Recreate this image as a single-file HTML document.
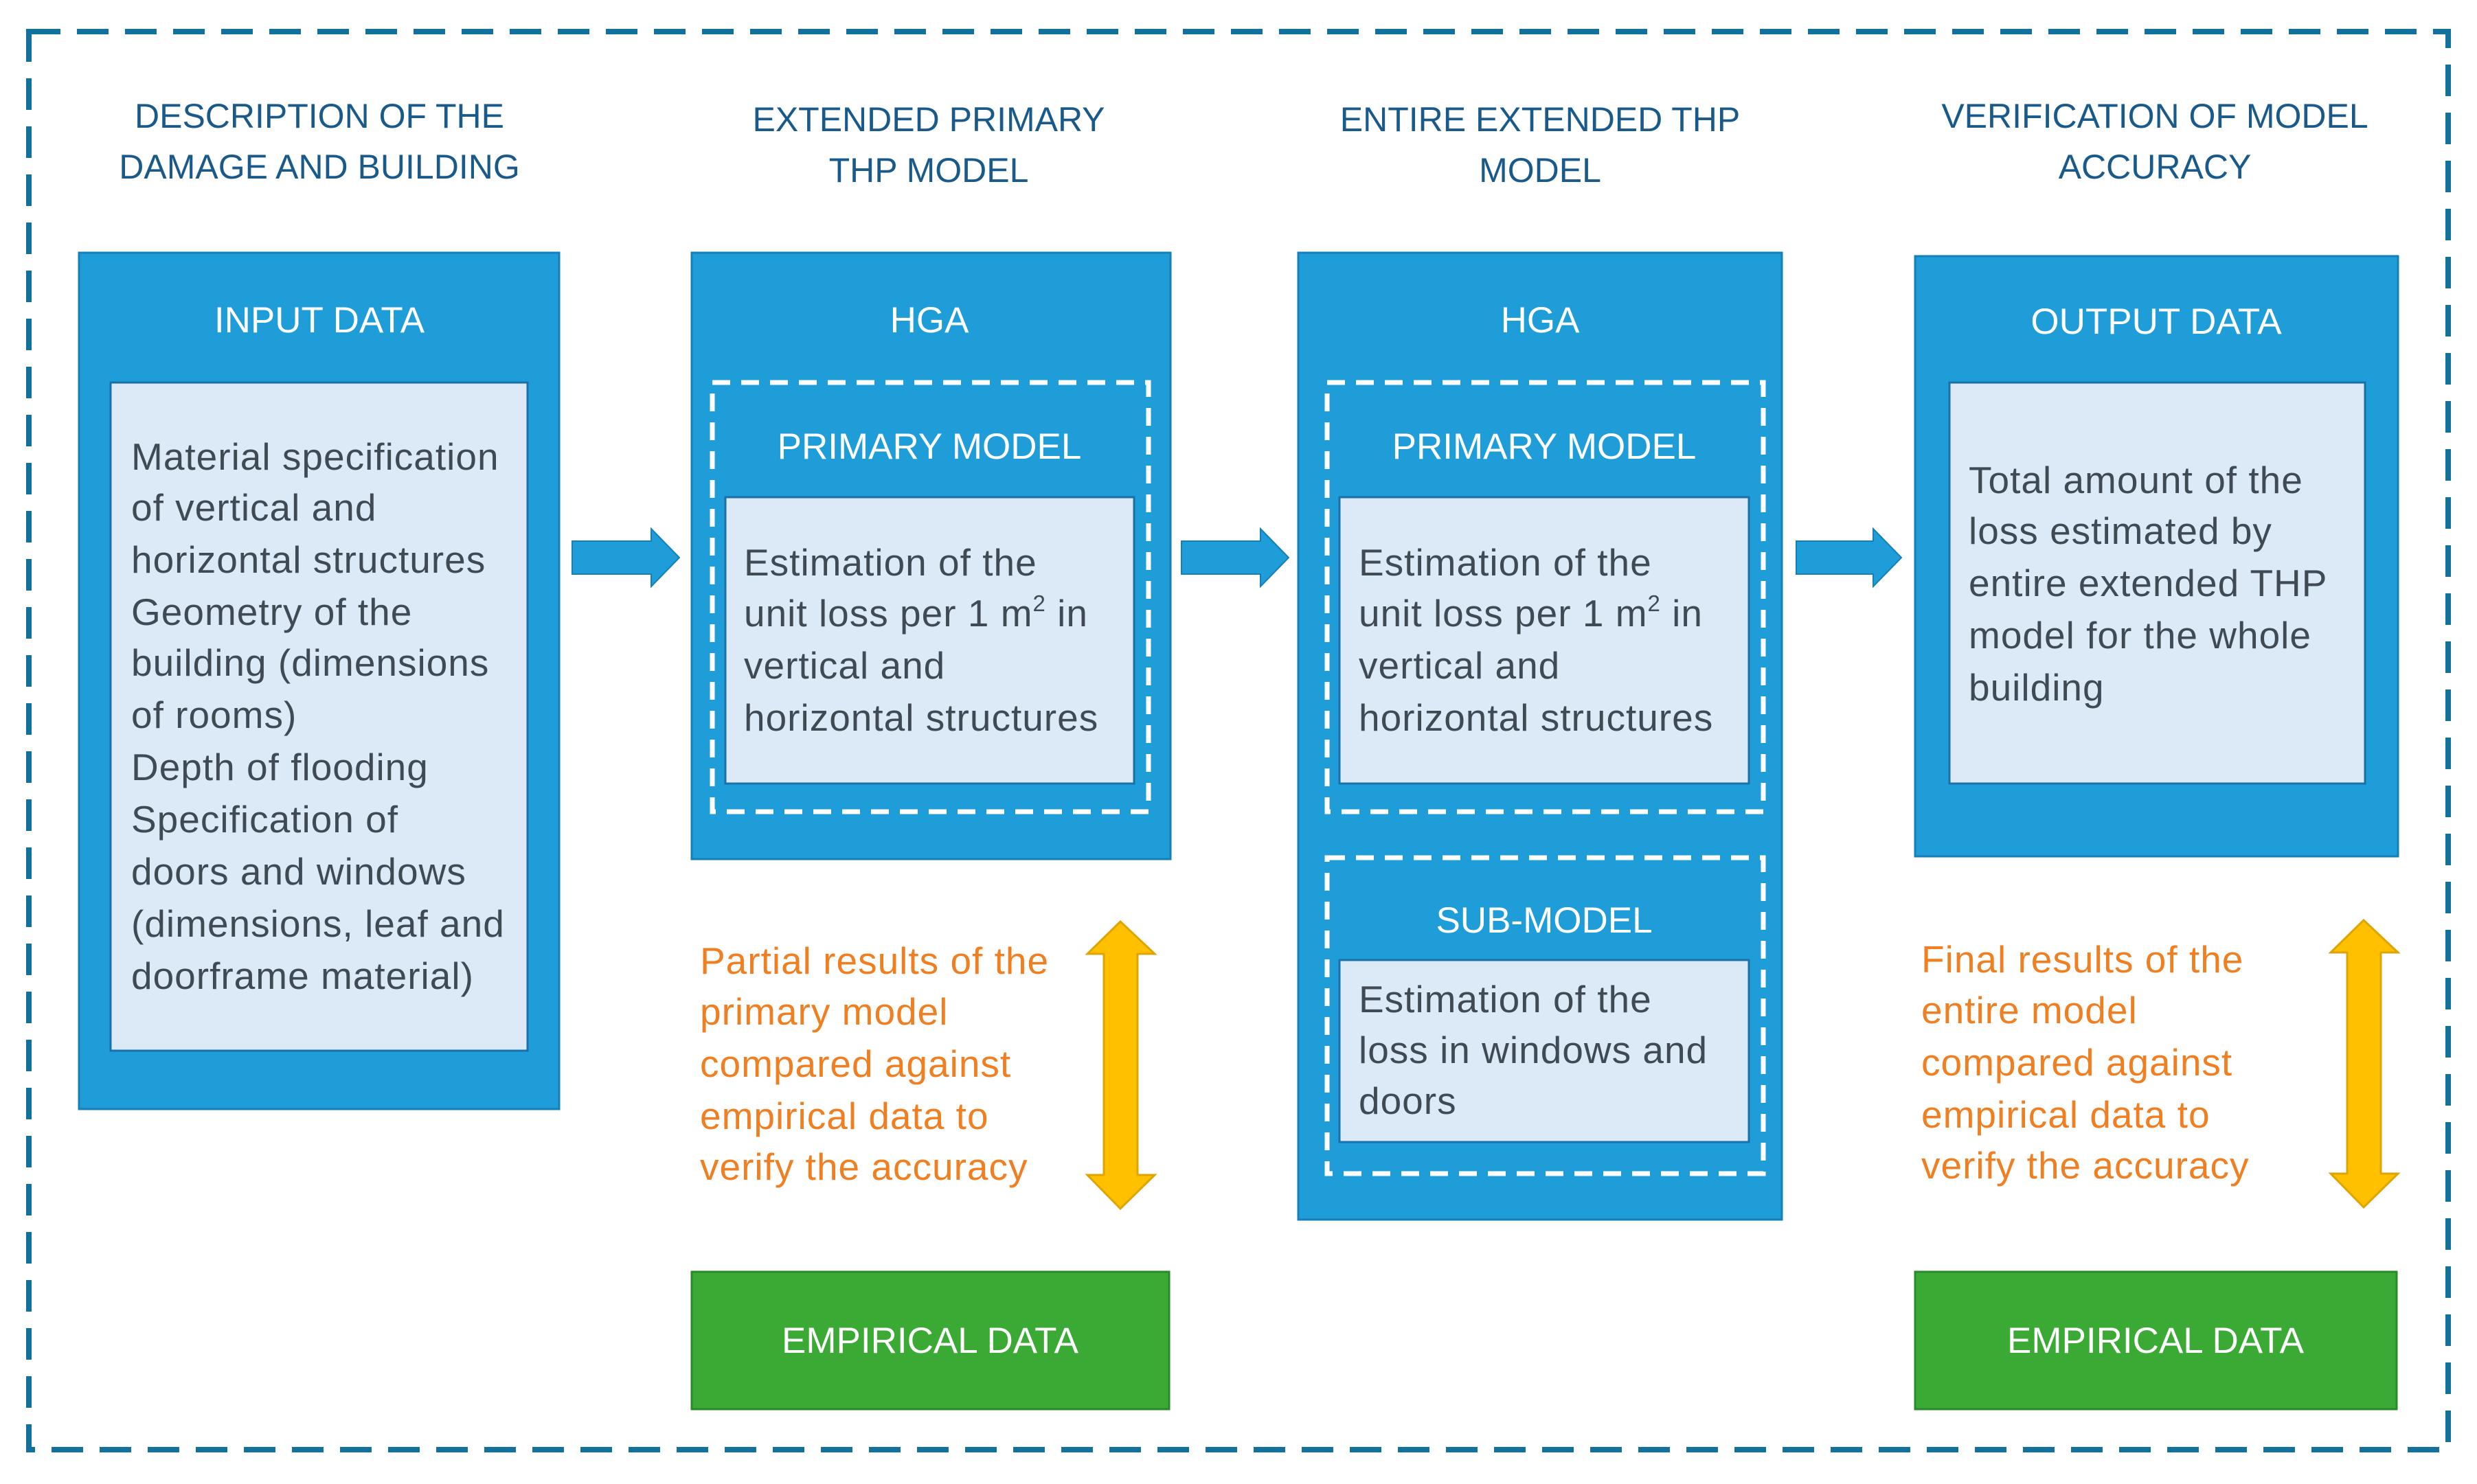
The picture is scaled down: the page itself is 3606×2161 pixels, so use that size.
<!DOCTYPE html>
<html><head><meta charset="utf-8"><style>html,body{margin:0;padding:0;background:#fff}svg{display:block}</style></head>
<body>
<svg width="3606" height="2161" viewBox="0 0 3606 2161" xmlns="http://www.w3.org/2000/svg" font-family="Liberation Sans, sans-serif">
<rect x="42" y="46" width="3522" height="2065" fill="none" stroke="#13729c" stroke-width="8" stroke-dasharray="46,24"/>
<g fill="#1a5a8a" font-size="50" text-anchor="middle">
<text x="465" y="186">DESCRIPTION OF THE</text><text x="465" y="260">DAMAGE AND BUILDING</text>
<text x="1352" y="191">EXTENDED PRIMARY</text><text x="1352" y="265">THP MODEL</text>
<text x="2242" y="191">ENTIRE EXTENDED THP</text><text x="2242" y="265">MODEL</text>
<text x="3137" y="186">VERIFICATION OF MODEL</text><text x="3137" y="260">ACCURACY</text>
</g>
<g fill="#1e9dd8" stroke="#1580b8" stroke-width="3">
<rect x="115" y="368" width="699" height="1247"/>
<rect x="1007" y="368" width="697" height="883"/>
<rect x="1890" y="368" width="704" height="1408"/>
<rect x="2788" y="373" width="703" height="874"/>
</g>
<g fill="none" stroke="#fff" stroke-width="7" stroke-dasharray="26,16">
<rect x="1037" y="557" width="635" height="625"/>
<rect x="1932" y="557" width="635" height="625"/>
<rect x="1932" y="1249" width="635" height="460"/>
</g>
<g fill="#dbeaf6" stroke="#1a70a8" stroke-width="3">
<rect x="161" y="557" width="607" height="973"/>
<rect x="1056" y="724" width="595" height="417"/>
<rect x="1950" y="724" width="596" height="417"/>
<rect x="1950" y="1398" width="596" height="265"/>
<rect x="2838" y="557" width="605" height="584"/>
</g>
<g fill="#fff" font-size="53" text-anchor="middle">
<text x="465" y="484">INPUT DATA</text>
<text x="1353" y="484">HGA</text>
<text x="2242" y="484">HGA</text>
<text x="3139" y="486">OUTPUT DATA</text>
<text x="1353" y="668">PRIMARY MODEL</text>
<text x="2248" y="668">PRIMARY MODEL</text>
<text x="2248" y="1358">SUB-MODEL</text>
</g>
<g fill="#3f4a55" font-size="55" letter-spacing="1">
<text x="191" y="684">Material specification</text>
<text x="191" y="758">of vertical and</text>
<text x="191" y="834">horizontal structures</text>
<text x="191" y="910">Geometry of the</text>
<text x="191" y="984">building (dimensions</text>
<text x="191" y="1060">of rooms)</text>
<text x="191" y="1136">Depth of flooding</text>
<text x="191" y="1212">Specification of</text>
<text x="191" y="1288">doors and windows</text>
<text x="191" y="1364">(dimensions, leaf and</text>
<text x="191" y="1440">doorframe material)</text>
<text x="1083" y="838">Estimation of the</text>
<text x="1083" y="912">unit loss per 1 m<tspan font-size="33" dy="-22">2</tspan><tspan dy="22"> in</tspan></text>
<text x="1083" y="988">vertical and</text>
<text x="1083" y="1064">horizontal structures</text>
<text x="1978" y="838">Estimation of the</text>
<text x="1978" y="912">unit loss per 1 m<tspan font-size="33" dy="-22">2</tspan><tspan dy="22"> in</tspan></text>
<text x="1978" y="988">vertical and</text>
<text x="1978" y="1064">horizontal structures</text>
<text x="1978" y="1474">Estimation of the</text>
<text x="1978" y="1548">loss in windows and</text>
<text x="1978" y="1622">doors</text>
<text x="2866" y="718">Total amount of the</text>
<text x="2866" y="792">loss estimated by</text>
<text x="2866" y="868">entire extended THP</text>
<text x="2866" y="944">model for the whole</text>
<text x="2866" y="1020">building</text>
</g>
<g fill="#f07f22" font-size="55" letter-spacing="1">
<text x="1019" y="1418">Partial results of the</text>
<text x="1019" y="1492">primary model</text>
<text x="1019" y="1568">compared against</text>
<text x="1019" y="1644">empirical data to</text>
<text x="1019" y="1718">verify the accuracy</text>
<text x="2797" y="1416">Final results of the</text>
<text x="2797" y="1490">entire model</text>
<text x="2797" y="1566">compared against</text>
<text x="2797" y="1642">empirical data to</text>
<text x="2797" y="1716">verify the accuracy</text>
</g>
<g fill="#1e9dd8" stroke="#1580b8" stroke-width="2">
<path d="M833 788 H948 V770 L989 812 L948 854 V836 H833 Z"/>
<path d="M1720 788 H1835 V770 L1876 812 L1835 854 V836 H1720 Z"/>
<path d="M2615 788 H2727 V770 L2768 812 L2727 854 V836 H2615 Z"/>
</g>
<g fill="#ffc000" stroke="#e0a400" stroke-width="3">
<path d="M1631 1342 L1681 1389 H1656 V1711 H1681 L1631 1760 L1583 1711 H1607 V1389 H1583 Z"/>
<path d="M3441 1340 L3491 1387 H3466 V1709 H3491 L3441 1758 L3393 1709 H3417 V1387 H3393 Z"/>
</g>
<g fill="#3aaa35" stroke="#2a8a2a" stroke-width="3">
<rect x="1007" y="1852" width="695" height="200"/>
<rect x="2788" y="1852" width="701" height="200"/>
</g>
<g fill="#fff" font-size="53" text-anchor="middle">
<text x="1354" y="1970">EMPIRICAL DATA</text>
<text x="3138" y="1970">EMPIRICAL DATA</text>
</g>
</svg>
</body></html>
